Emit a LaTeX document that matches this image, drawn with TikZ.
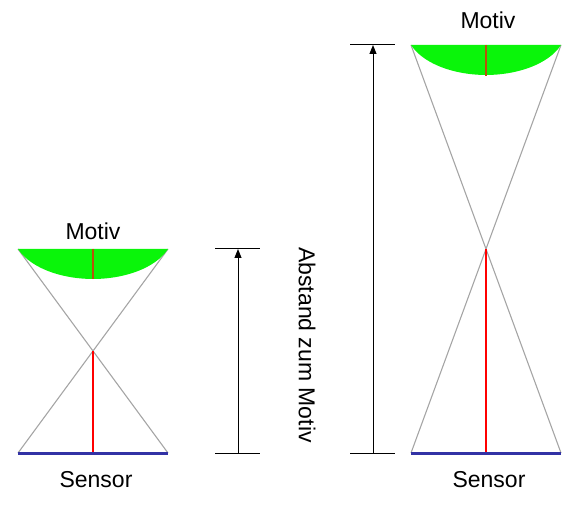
\documentclass[tikz,border=0pt]{standalone}
\usepackage{fontspec}
\setmainfont{Liberation Sans}
\usetikzlibrary{arrows.meta}
\definecolor{lensgreen}{RGB}{10,245,10}
\definecolor{axisbrown}{RGB}{185,80,10}
\definecolor{raygray}{RGB}{165,165,165}
\definecolor{sensorblue}{RGB}{50,50,165}
\tikzset{
  ray/.style={draw=raygray, line width=1.1pt},
  sensorline/.style={draw=sensorblue, line width=3pt},
  lens/.style={fill=lensgreen, draw=none},
  axisline/.style={draw=axisbrown, line width=2pt},
  redline/.style={draw=red, line width=1.4pt},
  tick/.style={draw=black, line width=1pt},
  dimarrow/.style={draw=black, line width=1pt, -{Triangle[length=9pt,width=7pt]}},
  label/.style={font=\fontsize{23}{25}\selectfont, inner sep=0pt}
}
\begin{document}
\begin{tikzpicture}[x=1pt,y=1pt]
\useasboundingbox (0,0) rectangle (586,506);
% ---------- left ----------
\coordinate (LS1) at (18,53);
\coordinate (LS2) at (168,53);
\coordinate (LM1) at (18,257);
\coordinate (LM2) at (168,257);
\coordinate (LX) at (93,155);
\coordinate (LMb) at (93,227);
\coordinate (LMt) at (93,257);
\coordinate (LSc) at (93,53);
\draw[ray] (LM1) -- (LS2);
\draw[ray] (LM2) -- (LS1);
\draw[redline] (LX) -- (LSc);
\fill[lens] (LM1) -- (LM2) arc[start angle=-20.4, end angle=-159.6, x radius=80, y radius=46] -- cycle;
\draw[axisline] (LMt) -- (LMb);
\draw[sensorline] (LS1) -- (LS2);
\node[label] (motivL) at (93,275) {Motiv};
\node[label] (sensorL) at (96,26) {Sensor};
% ---------- right ----------
\coordinate (RS1) at (411,53);
\coordinate (RS2) at (561,53);
\coordinate (RM1) at (411,461);
\coordinate (RM2) at (561,461);
\coordinate (RX) at (486,257);
\coordinate (RMb) at (486,430);
\coordinate (RMt) at (486,461);
\coordinate (RSc) at (486,53);
\draw[ray] (RM1) -- (RS2);
\draw[ray] (RM2) -- (RS1);
\draw[redline] (RX) -- (RSc);
\fill[lens] (RM1) -- (RM2) arc[start angle=-20.4, end angle=-159.6, x radius=80, y radius=46] -- cycle;
\draw[axisline] (RMt) -- (RMb);
\draw[sensorline] (RS1) -- (RS2);
\node[label] (motivR) at (488,486) {Motiv};
\node[label] (sensorR) at (489,26) {Sensor};
% ---------- dimensions ----------
\coordinate (D1b) at (238,53);
\coordinate (D1t) at (238,257);
\coordinate (T1la) at (215,257);
\coordinate (T1ra) at (260,257);
\coordinate (T1lb) at (215,53);
\coordinate (T1rb) at (260,53);
\draw[tick] (T1la) -- (T1ra);
\draw[tick] (T1lb) -- (T1rb);
\draw[dimarrow] (D1b) -- (D1t);
\coordinate (D2b) at (373,53);
\coordinate (D2t) at (373,461);
\coordinate (T2la) at (350,461);
\coordinate (T2ra) at (395,461);
\coordinate (T2lb) at (350,53);
\coordinate (T2rb) at (395,53);
\draw[tick] (T2la) -- (T2ra);
\draw[tick] (T2lb) -- (T2rb);
\draw[dimarrow] (D2b) -- (D2t);
\node[label, rotate=-90] (abstand) at (307,161) {Abstand zum Motiv};
\end{tikzpicture}
\end{document}
